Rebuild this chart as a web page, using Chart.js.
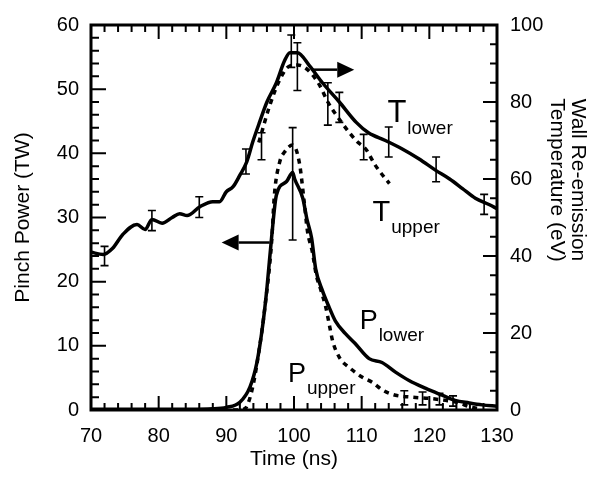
<!DOCTYPE html>
<html>
<head>
<meta charset="utf-8">
<script src="https://cdn.jsdelivr.net/npm/chart.js@4.4.1/dist/chart.umd.min.js"></script>
<style>
    html, body { margin: 0; padding: 0; background: #fff; }
</style>
</head>
<body>
<canvas id="pinch-chart" width="606" height="481"></canvas>
<script>
// tick labels
const timeTicks = [70, 80, 90, 100, 110, 120, 130];
const powerTicks = [0, 10, 20, 30, 40, 50, 60];
const tempTicks = [0, 20, 40, 60, 80, 100];

// pinch power, lower (solid) and upper (dashed), TW
const pLowerTime = [70, 80, 88, 90, 92, 93.5, 94.5, 95.4, 96, 96.7, 97.4, 98.9, 99.8, 100.1, 101.3, 101.9, 102.6, 103.2, 104.2, 105.2, 106.1, 107.6, 109, 111.1, 113, 115, 117, 119.4, 121.9, 123.8, 125.9, 127.8, 130];
const pLowerPower = [0.1, 0.1, 0.2, 0.4, 1.2, 3.6, 7.3, 13.4, 19, 27, 33.5, 35.6, 37, 36, 33, 29.8, 26.8, 22, 18.6, 16, 13.9, 11.9, 10.4, 8, 7.4, 5.9, 4.6, 3.4, 2.3, 1.5, 1.1, 0.8, 0.6];

const pUpperTime = [91, 92.5, 93, 93.9, 94.9, 95.7, 96.7, 97.1, 97.9, 98.6, 99.8, 100.8, 101.5, 102, 102.7, 103.3, 104, 104.7, 105.2, 105.7, 106.7, 108.2, 110.1, 111.6, 113.1, 115, 117.5, 120, 122.4, 124.4, 125.9, 127.5];
const pUpperPower = [0, 0.1, 0.5, 3.6, 9.7, 16, 26.3, 33.5, 38.7, 40.2, 41.3, 38.5, 32.5, 27.8, 24.7, 21, 18.6, 16, 13.4, 10.8, 8.2, 6.6, 5.1, 4.3, 3.1, 2.3, 2, 1.8, 1.5, 1.1, 0.5, 0.2];

// wall re-emission temperature, lower (solid) and upper (dashed), eV
const tLowerTime = [70, 71.8, 73.2, 74.7, 76.8, 78, 79, 80.5, 82, 83.1, 84.2, 86.1, 88, 89, 90, 91, 92, 93, 93.9, 94.9, 96, 97.4, 98.6, 99.4, 100.5, 102.3, 104.2, 106.7, 109.2, 111, 113.5, 116, 118.5, 120.9, 123, 124.9, 126.8, 128.9, 130];
const tLowerTemp = [41, 40.4, 42, 45.6, 48.2, 46.9, 49.5, 48.5, 50, 51, 50.5, 52.8, 54.1, 54.1, 56.7, 58, 61, 64.4, 69.6, 74.7, 80, 85, 90.7, 92.8, 92.8, 89.4, 85, 80, 74.7, 72, 70, 67.8, 65.2, 62.3, 60, 57.5, 55, 53.3, 52.3];

const tUpperTime = [94.8, 96.4, 97.9, 99.4, 100.5, 102, 103.8, 105, 106.3, 108.2, 109.4, 110.6, 112, 114.1];
const tUpperTemp = [69.5, 79, 85.8, 89.4, 89.6, 88.4, 84.3, 80, 76.5, 72, 69.6, 67.8, 63.6, 58.8];

// error bars: [time, low, high]
const tempErrorBars = [
    [72, 37.5, 42.5], [79, 46.6, 51.8], [86, 50, 55.4], [92.9, 61.3, 67.8],
    [95.2, 65, 72], [99.6, 89, 97.4], [100.5, 83, 95.4], [105, 74, 85],
    [106.7, 74.7, 82.5], [110.3, 65, 71.6], [114, 65.7, 73.5], [121, 59.3, 65.7],
    [128.1, 50.8, 56]
];
const powerErrorBars = [
    [99.8, 26.5, 44], [116.3, 0.8, 3], [119, 0.8, 2.8], [121.5, 0.8, 2.6], [123.5, 0.6, 2.2]
];

const FONT = "'Liberation Sans', Arial, Helvetica, sans-serif";

function points(xs, ys) {
    return xs.map((x, i) => ({x: x, y: ys[i]}));
}

function arrow(ctx, x1, y1, x2, y2) {
    const dir = Math.sign(x2 - x1);
    const head = 17;
    ctx.beginPath();
    ctx.moveTo(x1, y1);
    ctx.lineTo(x2 - dir * head, y2);
    ctx.stroke();
    ctx.beginPath();
    ctx.moveTo(x2, y2);
    ctx.lineTo(x2 - dir * head, y2 - 8);
    ctx.lineTo(x2 - dir * head, y2 + 8);
    ctx.closePath();
    ctx.fill();
}

const decorations = {
    id: 'decorations',
    afterDatasetsDraw(chart) {
        const {ctx, chartArea: a, scales} = chart;
        const xs = scales.x, yp = scales.yP, yt = scales.yT;
        ctx.save();
        ctx.strokeStyle = '#000';
        ctx.fillStyle = '#000';

        // error bars
        ctx.lineWidth = 1.6;
        const bars = (list, scale) => {
            list.forEach(([t, lo, hi]) => {
                const x = xs.getPixelForValue(t);
                const y1 = scale.getPixelForValue(lo), y2 = scale.getPixelForValue(hi);
                ctx.beginPath();
                ctx.moveTo(x, y1); ctx.lineTo(x, y2);
                ctx.moveTo(x - 4, y1); ctx.lineTo(x + 4, y1);
                ctx.moveTo(x - 4, y2); ctx.lineTo(x + 4, y2);
                ctx.stroke();
            });
        };
        bars(tempErrorBars, yt);
        bars(powerErrorBars, yp);

        // axis arrows
        ctx.lineWidth = 2.5;
        arrow(ctx, xs.getPixelForValue(102.6), yt.getPixelForValue(88.4), xs.getPixelForValue(108.9), yt.getPixelForValue(88.4));
        arrow(ctx, xs.getPixelForValue(96.4), yp.getPixelForValue(26.1), xs.getPixelForValue(89.3), yp.getPixelForValue(26.1));

        // curve labels
        const labels = [
            {main: 'T', sub: 'lower', t: 113.8, v: 74.7, scale: yt, size: 31},
            {main: 'T', sub: 'upper', t: 111.6, v: 49, scale: yt, size: 29},
            {main: 'P', sub: 'lower', t: 109.7, v: 12.7, scale: yp, size: 27},
            {main: 'P', sub: 'upper', t: 99.1, v: 4.3, scale: yp, size: 27}
        ];
        ctx.textBaseline = 'alphabetic';
        ctx.textAlign = 'left';
        labels.forEach(l => {
            const x = xs.getPixelForValue(l.t), y = l.scale.getPixelForValue(l.v);
            ctx.font = l.size + 'px ' + FONT;
            const w = ctx.measureText(l.main).width;
            ctx.fillText(l.main, x, y);
            ctx.font = '19px ' + FONT;
            ctx.fillText(l.sub, x + w + 1, y + 12);
        });

        // tick marks, inside the frame
        ctx.lineWidth = 2;
        ctx.beginPath();
        for (let t = 70; t <= 130; t += 2) {
            const x = xs.getPixelForValue(t);
            const len = t % 10 === 0 ? 14 : 7;
            ctx.moveTo(x, a.bottom); ctx.lineTo(x, a.bottom - len);
            ctx.moveTo(x, a.top); ctx.lineTo(x, a.top + len);
        }
        for (let p = 0; p <= 60; p += 2) {
            const y = yp.getPixelForValue(p);
            const len = p % 10 === 0 ? 15 : 8;
            ctx.moveTo(a.left, y); ctx.lineTo(a.left + len, y);
        }
        for (let e = 0; e <= 100; e += 5) {
            const y = yt.getPixelForValue(e);
            const len = e % 20 === 0 ? 14 : 7;
            ctx.moveTo(a.right, y); ctx.lineTo(a.right - len, y);
        }
        ctx.stroke();

        ctx.lineWidth = 3;
        ctx.strokeRect(a.left, a.top, a.right - a.left, a.bottom - a.top);

        // right axis title, two lines, rotated
        ctx.save();
        ctx.translate(a.right + 81, 180);
        ctx.rotate(Math.PI / 2);
        ctx.font = '21px ' + FONT;
        ctx.textAlign = 'center';
        ctx.textBaseline = 'middle';
        ctx.fillText('Wall Re-emission', 0, 0);
        ctx.fillText('Temperature (eV)', 0, 21);
        ctx.restore();

        ctx.restore();
    }
};

const canvas = document.getElementById('pinch-chart');

new Chart(canvas, {
    type: 'line',
    data: {
        datasets: [
            {
                label: 'P lower',
                data: points(pLowerTime, pLowerPower),
                yAxisID: 'yP',
                borderColor: '#000',
                borderWidth: 3.5
            },
            {
                label: 'P upper',
                data: points(pUpperTime, pUpperPower),
                yAxisID: 'yP',
                borderColor: '#000',
                borderWidth: 3.5,
                borderDash: [5, 5]
            },
            {
                label: 'T lower',
                data: points(tLowerTime, tLowerTemp),
                yAxisID: 'yT',
                borderColor: '#000',
                borderWidth: 3.5
            },
            {
                label: 'T upper',
                data: points(tUpperTime, tUpperTemp),
                yAxisID: 'yT',
                borderColor: '#000',
                borderWidth: 3.5,
                borderDash: [5, 5]
            }
        ]
    },
    options: {
        responsive: false,
        animation: false,
        devicePixelRatio: 1,
        layout: {padding: {top: 22, left: 0, right: 0, bottom: 0}},
        elements: {
            point: {radius: 0},
            line: {tension: 0, cubicInterpolationMode: 'monotone'}
        },
        plugins: {
            legend: {display: false},
            tooltip: {enabled: false}
        },
        scales: {
            x: {
                type: 'linear',
                min: 70,
                max: 130,
                afterBuildTicks: s => { s.ticks = timeTicks.map(v => ({value: v})); },
                afterFit: s => { s.height = 71; },
                grid: {display: false, drawTicks: false},
                border: {display: false},
                ticks: {color: '#000', padding: 14, font: {family: FONT, size: 20}},
                title: {display: true, text: 'Time (ns)', color: '#000', font: {family: FONT, size: 21}, padding: {top: 0, bottom: 9}}
            },
            yP: {
                type: 'linear',
                position: 'left',
                min: 0,
                max: 60,
                afterBuildTicks: s => { s.ticks = powerTicks.map(v => ({value: v})); },
                afterFit: s => { s.width = 91; },
                grid: {display: false, drawTicks: false},
                border: {display: false},
                ticks: {color: '#000', padding: 12, font: {family: FONT, size: 20}},
                title: {display: true, text: 'Pinch Power (TW)', color: '#000', font: {family: FONT, size: 21}, padding: {top: 11, bottom: 0}}
            },
            yT: {
                type: 'linear',
                position: 'right',
                min: 0,
                max: 100,
                afterBuildTicks: s => { s.ticks = tempTicks.map(v => ({value: v})); },
                afterFit: s => { s.width = 109; },
                grid: {display: false, drawTicks: false},
                border: {display: false},
                ticks: {color: '#000', padding: 13, font: {family: FONT, size: 20}}
            }
        }
    },
    plugins: [decorations]
});
</script>
</body>
</html>
